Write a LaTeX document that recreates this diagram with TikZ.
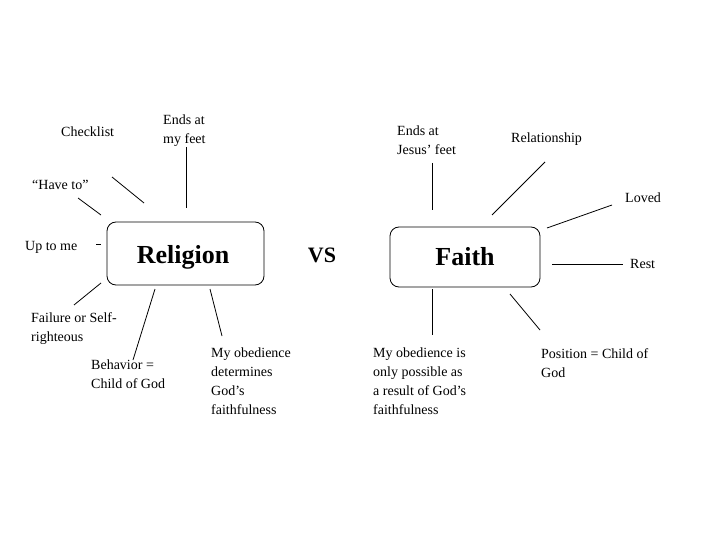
\documentclass[tikz,border=0pt]{standalone}
\usepackage{fontspec}
\setmainfont{Liberation Serif}
\begin{document}
\begin{tikzpicture}[x=1pt,y=-1pt,
 lbl/.style={anchor=north west,inner sep=0,align=left,font=\fontsize{14}{19}\selectfont},
 bigbox/.style={draw,rounded corners=9pt,thick,inner sep=0},
 ln/.style={line width=0.8pt}]
\useasboundingbox (0,0) rectangle (720,540);
\node[bigbox,minimum width=157pt,minimum height=63pt] (rel) at (185.5,253.5) {};
\node[font=\fontsize{26}{30}\selectfont\bfseries] (relt) at (183,257) {Religion};
\node[bigbox,minimum width=150pt,minimum height=60pt] (fai) at (465,257) {};
\node[font=\fontsize{26}{30}\selectfont\bfseries] (fait) at (465,257) {Faith};
\node[font=\fontsize{22}{26}\selectfont\bfseries] (vs) at (322,255) {VS};
% religion labels
\node[lbl] (t1) at (61,127) {Checklist};
\node[lbl] (t2) at (163,115) {Ends at\\my feet};
\node[lbl] (t3) at (32,180) {“Have to”};
\node[lbl] (t4) at (25,241) {Up to me};
\node[lbl] (t5) at (31,312) {Failure or Self-\\righteous};
\node[lbl] (t6) at (91,360) {Behavior =\\Child of God};
\node[lbl] (t7) at (211,348) {My obedience\\determines\\God’s\\faithfulness};
% faith labels
\node[lbl] (f1) at (397,126) {Ends at\\Jesus’ feet};
\node[lbl] (f2) at (511,133) {Relationship};
\node[lbl] (f3) at (625,193) {Loved};
\node[lbl] (f4) at (630,259) {Rest};
\node[lbl] (f5) at (541,348) {Position = Child of\\God};
\node[lbl] (f6) at (373,348) {My obedience is\\only possible as\\a result of God’s\\faithfulness};
% connectors
\coordinate (a1) at (112,177); \coordinate (b1) at (144,203); \draw[ln] (a1)--(b1);
\coordinate (a2) at (186,147); \coordinate (b2) at (186,208); \draw[ln] (a2)--(b2);
\coordinate (a3) at (78,198); \coordinate (b3) at (101,215); \draw[ln] (a3)--(b3);
\coordinate (a4) at (96,244); \coordinate (b4) at (101,244); \draw[ln] (a4)--(b4);
\coordinate (a5) at (101,283); \coordinate (b5) at (74,305); \draw[ln] (a5)--(b5);
\coordinate (a6) at (155,289); \coordinate (b6) at (133,360); \draw[ln] (a6)--(b6);
\coordinate (a7) at (210,289); \coordinate (b7) at (222,336); \draw[ln] (a7)--(b7);
\coordinate (c1) at (432,163); \coordinate (d1) at (432,210); \draw[ln] (c1)--(d1);
\coordinate (c2) at (545,162); \coordinate (d2) at (492,215); \draw[ln] (c2)--(d2);
\coordinate (c3) at (612,205); \coordinate (d3) at (547,228); \draw[ln] (c3)--(d3);
\coordinate (c4) at (552,264); \coordinate (d4) at (623,264); \draw[ln] (c4)--(d4);
\coordinate (c5) at (510,294); \coordinate (d5) at (540,330); \draw[ln] (c5)--(d5);
\coordinate (c6) at (432,289); \coordinate (d6) at (432,335); \draw[ln] (c6)--(d6);
\end{tikzpicture}
\end{document}
